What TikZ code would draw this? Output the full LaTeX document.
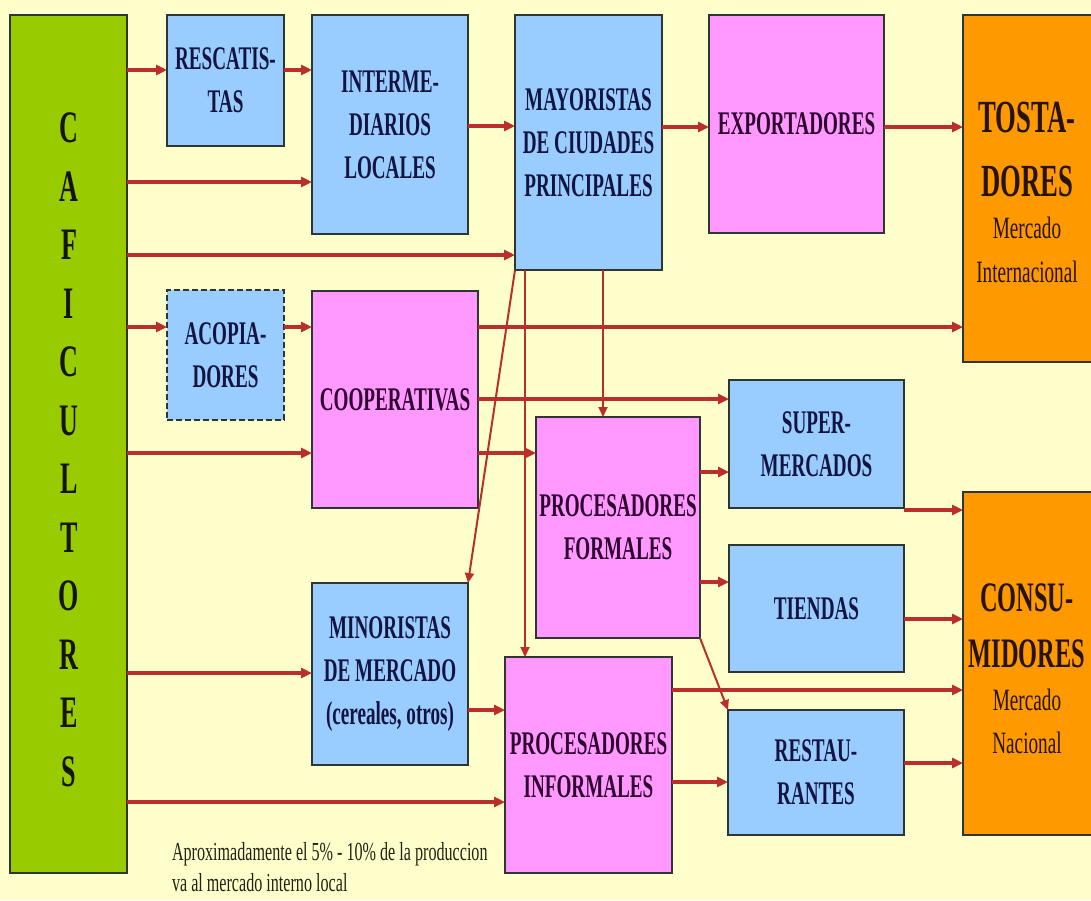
\documentclass[tikz,border=0pt]{standalone}
\usepackage{fontspec}
\setmainfont{Liberation Serif}
\newfontfamily\lblfont{Liberation Serif}[FakeStretch=0.58]
\newfontfamily\subfont{Liberation Serif}[FakeStretch=0.62]
\usetikzlibrary{arrows.meta}
\definecolor{bgy}{HTML}{FFFFCC}
\definecolor{cgreen}{HTML}{99CC00}
\definecolor{cblue}{HTML}{99CCFF}
\definecolor{cpink}{HTML}{FF99FF}
\definecolor{corange}{HTML}{FF9900}
\definecolor{boxline}{HTML}{2F3535}
\definecolor{tblue}{HTML}{141440}
\definecolor{tpink}{HTML}{2E002E}
\definecolor{tbrown}{HTML}{261300}
\definecolor{tdark}{HTML}{141400}
\definecolor{tfoot}{HTML}{222214}
\definecolor{arrowred}{HTML}{BA2E2E}
\newcommand\boxat[7]{\node[#2, minimum width={(#5-#3)*1pt}, minimum height={(#6-#4)*1pt}] (#1) at ({(#3+#5)/2},{(#4+#6)/2}) {#7};}
\begin{document}
\begin{tikzpicture}[x=1pt,y=-1pt,
  box/.style={draw=boxline,line width=2.2pt,inner sep=0pt,outer sep=0pt,align=center,
    font=\lblfont\bfseries\fontsize{33}{43}\selectfont},
  bluebox/.style={box,fill=cblue,text=tblue},
  pinkbox/.style={box,fill=cpink,text=tpink},
  greenbox/.style={box,fill=cgreen},
  orangebox/.style={box,fill=corange},
  arr/.style={draw=arrowred,line width=3.3pt,-{Triangle[length=11pt,width=10pt]}},
  thinarr/.style={draw=arrowred,line width=2pt,-{Triangle[length=10pt,width=9pt]}},
  lbl/.style={inner sep=0pt,outer sep=0pt,align=center}]
\useasboundingbox (0,0) rectangle (1091,900);
\fill[bgy] (0,0) rectangle (1091,900);

% boxes
\boxat{caf}{greenbox}{10}{15}{127}{873}{}
\boxat{resc}{bluebox}{167}{15}{284}{146}{RESCATIS-\\TAS}
\boxat{inter}{bluebox}{312}{15}{468}{234}{INTERME-\\DIARIOS\\LOCALES}
\boxat{mayor}{bluebox}{515}{15}{662}{270}{MAYORISTAS\\DE CIUDADES\\PRINCIPALES}
\boxat{expo}{pinkbox}{709}{15}{884}{233}{EXPORTADORES}
\boxat{tost}{orangebox}{963}{15}{1100}{362}{}
\boxat{acop}{bluebox,dashed,dash pattern=on 6pt off 3pt}{167}{290}{284}{420}{ACOPIA-\\DORES}
\boxat{coop}{pinkbox}{312}{291}{478}{508}{COOPERATIVAS}
\boxat{super}{bluebox}{729}{380}{904}{508}{SUPER-\\MERCADOS}
\boxat{procf}{pinkbox}{536}{417}{700}{638}{PROCESADORES\\FORMALES}
\boxat{tiendas}{bluebox}{729}{545}{904}{672}{TIENDAS}
\boxat{cons}{orangebox}{963}{492}{1100}{835}{}
\boxat{mino}{bluebox}{312}{583}{468}{765}{MINORISTAS\\DE MERCADO\\(cereales, otros)}
\boxat{proci}{pinkbox}{505}{657}{672}{873}{PROCESADORES\\INFORMALES}
\boxat{rest}{bluebox}{728}{710}{904}{835}{RESTAU-\\RANTES}

% labels
\node[lbl,anchor=north,text=tdark,font=\lblfont\bfseries\fontsize{45}{58.5}\selectfont] (cafl) at (69,113)
  {C\\A\\F\\I\\C\\U\\L\\T\\O\\R\\E\\S};
\node[lbl,anchor=north,text=tbrown,font=\lblfont\bfseries\fontsize{46}{64}\selectfont] (tostl) at (1027,102) {TOSTA-\\DORES};
\node[lbl,anchor=north,text=tbrown,font=\subfont\fontsize{31}{44}\selectfont] (tosts) at (1027,217) {Mercado\\Internacional};
\node[lbl,anchor=north,text=tbrown,font=\lblfont\bfseries\fontsize{42}{56}\selectfont] (consl) at (1027,584) {CONSU-\\MIDORES};
\node[lbl,anchor=north,text=tbrown,font=\subfont\fontsize{31}{43}\selectfont] (conss) at (1027,689) {Mercado\\Nacional};
\node[lbl,anchor=north west,align=left,text=tfoot,font=\subfont\fontsize{26}{31}\selectfont] (foot) at (172,842)
  {Aproximadamente el 5\% - 10\% de la produccion\\va al mercado interno local};

% connectors
\draw[arr] (caf.east |- 0,70) -- (resc.west |- 0,70);
\draw[arr] (resc.east |- 0,70) -- (inter.west |- 0,70);
\draw[arr] (caf.east |- 0,182) -- (inter.west |- 0,182);
\draw[arr] (inter.east |- 0,126) -- (mayor.west |- 0,126);
\draw[arr] (caf.east |- 0,255) -- (mayor.west |- 0,255);
\draw[arr] (mayor.east |- 0,127) -- (expo.west |- 0,127);
\draw[arr] (expo.east |- 0,127) -- (tost.west |- 0,127);
\draw[arr] (caf.east |- 0,327) -- (acop.west |- 0,327);
\draw[arr] (acop.east |- 0,327) -- (coop.west |- 0,327);
\draw[arr] (coop.east |- 0,327) -- (tost.west |- 0,327);
\draw[arr] (caf.east |- 0,453) -- (coop.west |- 0,453);
\draw[arr] (coop.east |- 0,399) -- (super.west |- 0,399);
\draw[arr] (coop.east |- 0,453) -- (procf.west |- 0,453);
\draw[thinarr] (mayor.south -| 603,0) -- (procf.north -| 603,0);
\draw[thinarr] (mayor.south west) -- (mino.north east);
\draw[thinarr] (mayor.south -| 525,0) -- (proci.north -| 525,0);
\draw[arr] (procf.east |- 0,472) -- (super.west |- 0,472);
\draw[arr] (procf.east |- 0,582) -- (tiendas.west |- 0,582);
\draw[thinarr] (procf.south east) -- (rest.north west);
\draw[arr] (super.east |- 0,510) -- (cons.west |- 0,510);
\draw[arr] (tiendas.east |- 0,619) -- (cons.west |- 0,619);
\draw[arr] (proci.east |- 0,690) -- (cons.west |- 0,690);
\draw[arr] (mino.east |- 0,710) -- (proci.west |- 0,710);
\draw[arr] (caf.east |- 0,673) -- (mino.west |- 0,673);
\draw[arr] (caf.east |- 0,802) -- (proci.west |- 0,802);
\draw[arr] (proci.east |- 0,782) -- (rest.west |- 0,782);
\draw[arr] (rest.east |- 0,763) -- (cons.west |- 0,763);
\end{tikzpicture}
\end{document}
